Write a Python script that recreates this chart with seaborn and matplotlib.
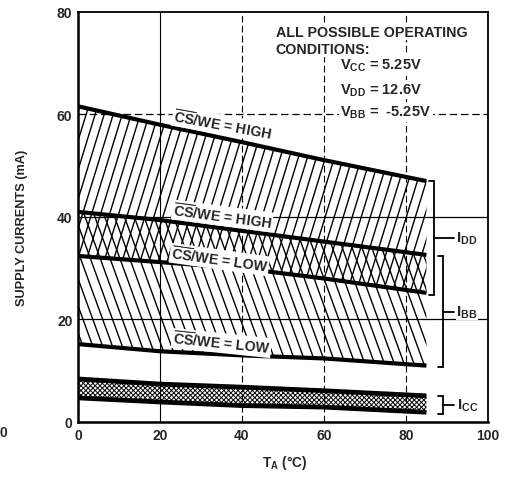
import numpy as np
import pandas as pd
import matplotlib
matplotlib.use("Agg")
import matplotlib.pyplot as plt
import seaborn as sns
from matplotlib.collections import LineCollection

# ---------------- data ----------------
temp = [0, 20, 40, 60, 85]
idd_high = [61.6, 58.0, 54.6, 51.1, 47.0]   # CS/WE = HIGH (upper)
ibb_high = [41.0, 39.4, 37.3, 35.2, 32.6]   # CS/WE = HIGH (lower)
idd_low = [32.4, 31.2, 30.0, 28.0, 25.2]    # CS/WE = LOW (upper)
ibb_low = [15.2, 13.8, 13.0, 12.4, 11.0]    # CS/WE = LOW (lower)
icc_max = [8.4, 7.4, 6.8, 6.1, 5.1]
icc_min = [4.7, 3.9, 3.2, 2.9, 1.9]

x_ticks = [0, 20, 40, 60, 80, 100]
y_ticks = [0, 20, 40, 60, 80]

# bracket ranges (mA) for the right-hand annotations
idd_range = [24.8, 47.0]
ibb_range = [10.7, 32.4]
icc_range = [1.6, 5.1]

# ---------------- style ----------------
sns.set_style("white")
plt.rcParams["font.family"] = ["Liberation Sans", "DejaVu Sans"]
plt.rcParams["font.weight"] = "bold"
plt.rcParams["mathtext.fontset"] = "custom"
plt.rcParams["mathtext.rm"] = "Liberation Sans:bold"
plt.rcParams["mathtext.it"] = "Liberation Sans:bold"
plt.rcParams["mathtext.bf"] = "Liberation Sans:bold"
plt.rcParams["hatch.linewidth"] = 0.75

fig = plt.figure(figsize=(5.08, 4.81), dpi=100)
ax = fig.add_axes([0.1535, 0.1206, 0.807, 0.8524])
ax.set_xlim(0, 100)
ax.set_ylim(0, 80)

t = np.array(temp, dtype=float)


def hatch_region(y1, y2, slope, spacing, lw=1.0):
    poly = ax.fill_between(t, y1, y2, facecolor="none", edgecolor="none")
    path = poly.get_paths()[0]
    xs = np.array([-20.0, 120.0])
    step = abs(slope) * spacing
    cs = np.arange(-500.0, 500.0, step)
    segs = [np.column_stack([xs, slope * xs + c]) for c in cs]
    lc = LineCollection(segs, colors="black", linewidths=lw, zorder=1)
    ax.add_collection(lc, autolim=False)
    lc.set_clip_path(path, ax.transData)


# I_DD region: "/" hatch, I_BB region: "\" hatch (overlap -> cross-hatch)
hatch_region(idd_high, idd_low, 2.6, 2.2)
hatch_region(ibb_high, ibb_low, -2.2, 2.4)

# I_CC stippled band
ax.fill_between(t, icc_min, icc_max, facecolor="white", edgecolor="#111111",
                hatch="xxxxxxx", linewidth=0, zorder=1)

# grid lines
for yv, ls in [(20, "-"), (40, "-"), (60, (0, (6, 3)))]:
    ax.axhline(yv, color="black", lw=0.9, ls=ls, zorder=1.5)
for xv, ls in [(20, "-"), (40, (0, (6, 3))), (60, (0, (6, 3))), (80, (0, (6, 3)))]:
    ax.axvline(xv, color="black", lw=0.8, ls=ls, zorder=1.5)

# boundary curves
df = pd.DataFrame({"T": temp, "idd_high": idd_high, "ibb_high": ibb_high,
                   "idd_low": idd_low, "ibb_low": ibb_low,
                   "icc_max": icc_max, "icc_min": icc_min})
for col, lw in [("idd_high", 3.0), ("ibb_high", 3.0), ("idd_low", 3.0),
                ("ibb_low", 3.0), ("icc_max", 3.4), ("icc_min", 3.4)]:
    sns.lineplot(data=df, x="T", y=col, ax=ax, color="black", lw=lw,
                 zorder=3, solid_capstyle="butt")

# curve labels
lab = r"$\overline{\mathrm{CS}}$/WE = "
box = dict(facecolor="white", edgecolor="none", pad=0.6)
for xx, yy, rot, txt in [(35.2, 58.0, -10.3, "HIGH"), (35.2, 40.2, -7.5, "HIGH"),
                         (34.5, 31.7, -8.0, "LOW"), (35.0, 15.4, -5.9, "LOW")]:
    ax.text(xx, yy, lab + txt, rotation=rot, rotation_mode="anchor",
            ha="center", va="center", fontsize=10.3, fontweight="bold",
            bbox=box, zorder=4)

# operating conditions text
cbox = dict(facecolor="white", edgecolor="none", pad=1.0)
ax.text(48.2, 76.1, "ALL POSSIBLE OPERATING", fontsize=10.3, fontweight="bold",
        ha="left", va="center", bbox=cbox, zorder=4)
ax.text(48.2, 72.8, "CONDITIONS:", fontsize=10.3, fontweight="bold",
        ha="left", va="center", bbox=cbox, zorder=4)
ax.text(64.0, 69.7, r"V$_{CC}$ = 5.25V", fontsize=10.5, fontweight="bold",
        ha="left", va="center", bbox=cbox, zorder=4)
ax.text(64.0, 64.9, r"V$_{DD}$ = 12.6V", fontsize=10.5, fontweight="bold",
        ha="left", va="center", bbox=cbox, zorder=4)
ax.text(64.0, 60.5, r"V$_{BB}$ =  -5.25V", fontsize=10.5, fontweight="bold",
        ha="left", va="center", bbox=cbox, zorder=4)


# brackets on the right
def bracket(xv, rng, serif, tick_end, label, lx):
    lo, hi = rng
    mid = (lo + hi) / 2
    ax.plot([xv, xv], [lo, hi], color="black", lw=1.3, clip_on=False, zorder=3)
    ax.plot([xv - serif, xv], [hi, hi], color="black", lw=1.3, clip_on=False)
    ax.plot([xv - serif, xv], [lo, lo], color="black", lw=1.3, clip_on=False)
    ax.plot([xv, tick_end], [mid, mid], color="black", lw=1.3, clip_on=False)
    ax.text(lx, mid, label, fontsize=11, fontweight="bold", ha="left",
            va="center", bbox=dict(facecolor="white", edgecolor="none", pad=0.3),
            zorder=4)


bracket(86.8, idd_range, 1.2, 91.7, r"I$_{DD}$", 92.3)
bracket(89.0, ibb_range, 1.2, 91.7, r"I$_{BB}$", 92.3)
bracket(89.0, icc_range, 1.2, 91.7, r"I$_{CC}$", 92.4)

# axes, ticks, labels
ax.set_xticks(x_ticks)
ax.set_yticks(y_ticks)
ax.set_xticklabels([str(v) for v in x_ticks], fontsize=10, fontweight="bold")
ax.set_yticklabels([str(v) for v in y_ticks], fontsize=10, fontweight="bold")
ax.tick_params(axis="both", length=0, pad=4)
for s in ax.spines.values():
    s.set_visible(True)
    s.set_color("black")
    s.set_linewidth(1.3)
ax.spines["left"].set_linewidth(1.8)
ax.spines["bottom"].set_linewidth(1.8)
ax.grid(False)

ax.set_xlabel(r"T$_A$ (°C)", fontsize=9.8, fontweight="bold")
ax.set_ylabel("SUPPLY CURRENTS (mA)", fontsize=9.2, fontweight="bold")
ax.xaxis.set_label_coords(0.505, -0.097)
ax.xaxis.label.set_va("center")
ax.yaxis.set_label_coords(-0.137, 0.476)
ax.yaxis.label.set_va("center")

# stray label cut off at the left edge of the scan
fig.text(0.006, 1 - 433 / 481, "0", fontsize=10, fontweight="bold",
         ha="center", va="center")

fig.savefig("out.png", dpi=100, facecolor="white")
